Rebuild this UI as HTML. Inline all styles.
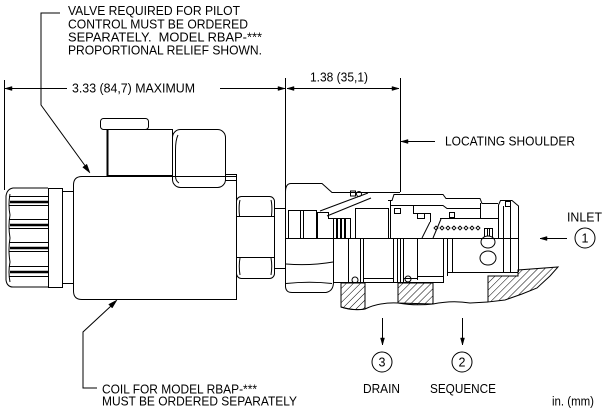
<!DOCTYPE html>
<html><head><meta charset="utf-8"><style>
html,body{margin:0;padding:0;background:#fff;}
svg{display:block;}
text{font-family:"Liberation Sans",Arial,sans-serif;font-size:12.5px;fill:#000;}
</style></head><body>
<svg width="612" height="418" viewBox="0 0 612 418" xmlns="http://www.w3.org/2000/svg">
<defs>
<pattern id="h" width="5" height="5" patternUnits="userSpaceOnUse" patternTransform="rotate(45)">
<line x1="0" y1="0" x2="0" y2="5" stroke="#000" stroke-width="1"/>
</pattern>
</defs>
<rect width="612" height="418" fill="#fff"/>

<!-- TEXT -->
<text x="68" y="15" textLength="172" lengthAdjust="spacingAndGlyphs">VALVE REQUIRED FOR PILOT</text>
<text x="68" y="28.5" textLength="180" lengthAdjust="spacingAndGlyphs">CONTROL MUST BE ORDERED</text>
<text x="68" y="41.5" textLength="194" lengthAdjust="spacingAndGlyphs">SEPARATELY.&#160; MODEL RBAP-***</text>
<text x="68" y="54.5" textLength="194" lengthAdjust="spacingAndGlyphs">PROPORTIONAL RELIEF SHOWN.</text>
<text x="72" y="92.5" textLength="123" lengthAdjust="spacingAndGlyphs">3.33 (84,7) MAXIMUM</text>
<text x="310" y="81.5" textLength="58" lengthAdjust="spacingAndGlyphs">1.38 (35,1)</text>
<text x="445" y="145.5" textLength="130" lengthAdjust="spacingAndGlyphs">LOCATING SHOULDER</text>
<text x="567" y="221.5" textLength="35" lengthAdjust="spacingAndGlyphs">INLET</text>
<text x="585" y="242.5" text-anchor="middle">1</text>
<text x="382" y="366.5" text-anchor="middle">3</text>
<text x="462" y="366.5" text-anchor="middle">2</text>
<text x="363" y="393" textLength="37" lengthAdjust="spacingAndGlyphs">DRAIN</text>
<text x="430" y="393" textLength="66" lengthAdjust="spacingAndGlyphs">SEQUENCE</text>
<text x="552" y="405.5" textLength="42" lengthAdjust="spacingAndGlyphs">in. (mm)</text>
<text x="102" y="393.5" textLength="155" lengthAdjust="spacingAndGlyphs">COIL FOR MODEL RBAP-***</text>
<text x="102" y="405.5" textLength="195" lengthAdjust="spacingAndGlyphs">MUST BE ORDERED SEPARATELY</text>

<!-- hatched housing -->
<g stroke="#000" stroke-width="1">
<path d="M341,283 L365,283 L365,309 Q355,311 341,307 Z" fill="url(#h)"/>
<path d="M398,283 L433,283 L433,304 Q415,306 398,303 Z" fill="url(#h)"/>
<path d="M488,276 L518,276 L518,270 L558,267 L550,276 L537,288 L522,294 L505,300 L488,302 Z" fill="url(#h)"/>
<path d="M341,307 Q352,311 365,309 Q380,302 398,303 L433,304 Q452,300 470,303 L488,302" fill="none"/>
</g>

<g fill="none" stroke="#000" stroke-width="1">
<!-- leaders and dimension lines -->
<polyline points="60,13 41,13 41,105 86,167"/>
<polyline points="111,306 83,332 83,388 97,388"/>
<line x1="4.5" y1="80" x2="4.5" y2="190"/>
<line x1="5" y1="88.5" x2="67" y2="88.5"/>
<line x1="220" y1="88.5" x2="285" y2="88.5"/>
<line x1="285.5" y1="78" x2="285.5" y2="188"/>
<line x1="287" y1="88.5" x2="399" y2="88.5"/>
<line x1="400.5" y1="78" x2="400.5" y2="192"/>
<line x1="401" y1="141.5" x2="435" y2="141.5"/>
<line x1="540" y1="238.5" x2="567" y2="238.5"/>
<line x1="382.5" y1="318" x2="382.5" y2="345"/>
<line x1="462.5" y1="318" x2="462.5" y2="345"/>
<circle cx="585" cy="238" r="10"/>
<circle cx="382" cy="362" r="10"/>
<circle cx="462" cy="362" r="10"/>

<!-- knurled nut -->
<path d="M48,188 L13,188 Q7,189 6,196 L6,280 Q7,287 13,287 L48,287"/>
<path d="M10,194 Q8,205 10,215 Q8,226 10,238 Q8,250 10,262 Q8,272 10,282"/>
<line x1="9" y1="196.5" x2="48" y2="196.5"/>
<line x1="9" y1="219.5" x2="48" y2="219.5"/>
<line x1="9" y1="242.5" x2="48" y2="242.5"/>
<line x1="9" y1="266.5" x2="48" y2="266.5"/>
<line x1="9" y1="205.5" x2="48" y2="205.5"/>
<line x1="9" y1="228.5" x2="48" y2="228.5"/>
<line x1="9" y1="251.5" x2="48" y2="251.5"/>
<line x1="9" y1="276.5" x2="48" y2="276.5"/>
<rect x="48.5" y="188.5" width="14" height="99"/>
<rect x="62.5" y="191.5" width="11" height="92"/>
<!-- coil body -->
<path d="M73.5,185 Q73.5,176.5 82,176.5 L236.5,176.5 L236.5,299.5 L82,299.5 Q73.5,299.5 73.5,291 Z"/>
<!-- connector -->
<rect x="100.5" y="118.5" width="48" height="11" rx="3"/>
<rect x="107.5" y="129.5" width="65" height="47"/>
<line x1="107.5" y1="129" x2="107.5" y2="177" stroke-width="2"/>
<line x1="107" y1="176" x2="172" y2="176" stroke-width="2"/>
<rect x="172.5" y="129.5" width="53" height="58" rx="8"/>
<path d="M178,135 Q175.5,140 175.5,150 L175.5,176 Q175.5,181 179,183"/>
<rect x="225.5" y="174.5" width="11" height="6"/>
<!-- hex nut -->
<rect x="236.5" y="196.5" width="38" height="82" rx="5"/>
<line x1="237" y1="216.5" x2="274" y2="216.5"/>
<line x1="237" y1="257.5" x2="274" y2="257.5"/>
<path d="M240,200 Q238.5,206 239.5,216 M240,258 Q238.5,266 240,275 M271,200 Q272.5,206 271.5,216 M271,258 Q272.5,266 271,275"/>
<rect x="274.5" y="208.5" width="11" height="60"/>

<!-- cartridge: nut -->
<path d="M285.5,192 Q285.5,183.5 291,183.5 L322,183.5 L332,192.5 L400,192.5"/>
<line x1="285.5" y1="188" x2="285.5" y2="287"/>
<path d="M285.5,287 Q286,292.5 292,292.5 L326,292.5 Q333.5,291 333.5,282 L333.5,239"/>
<path d="M286,283.5 Q310,281 332,283.5"/>
<path d="M286,264 Q310,266 333,262"/>
<line x1="288.5" y1="210.5" x2="316" y2="210.5"/>
<line x1="288.5" y1="210" x2="288.5" y2="238"/>
<line x1="300.5" y1="210" x2="300.5" y2="238"/>
<line x1="303.5" y1="210" x2="303.5" y2="238"/>
<line x1="316.5" y1="210" x2="316.5" y2="238"/>
<path d="M317.5,238 L317.5,212.5 L328.5,212.5 L328.5,218.5 L333.5,218.5"/>
<rect x="333.5" y="218.5" width="17" height="20"/>
<rect x="350.5" y="191" width="5" height="5"/>
<circle cx="359" cy="194" r="2.5"/>
<line x1="320" y1="211" x2="368" y2="193"/>
<line x1="327" y1="216" x2="371" y2="198"/>
<rect x="355.5" y="208.5" width="33" height="30"/>
<!-- upper right body -->
<path d="M388,200.5 L392,200.5 L394,194.5 L443,194.5 L446,198.5 L480,198.5 L482,203.5 L498,203.5"/>
<path d="M390.5,205.5 L443,205.5 L447,208.5 L480,208.5"/>
<line x1="390.5" y1="200" x2="390.5" y2="238"/>
<rect x="394.5" y="208.5" width="6" height="5"/>
<rect x="417.5" y="213.5" width="7" height="5"/>
<rect x="449.5" y="212.5" width="5" height="5"/>
<path d="M413.5,205.5 L413.5,213.5 L430.5,213.5 L430.5,222"/>
<line x1="422" y1="238" x2="430" y2="222"/>
<line x1="480.5" y1="203" x2="480.5" y2="218"/>
<line x1="440" y1="218.5" x2="498" y2="218.5"/>
<line x1="433" y1="238" x2="441" y2="219"/>
<g stroke-width="0.9">
<path d="M434,228 l2,-2 l2,2 l-2,2 z M440,228 l2,-2 l2,2 l-2,2 z M446,228 l2,-2 l2,2 l-2,2 z M452,228 l2,-2 l2,2 l-2,2 z M458,228 l2,-2 l2,2 l-2,2 z M464,228 l2,-2 l2,2 l-2,2 z M470,228 l2,-2 l2,2 l-2,2 z M476,228 l2,-2 l2,2 l-2,2 z"/>
</g>
<rect x="484.5" y="228.5" width="8" height="10"/>
<line x1="487.5" y1="229" x2="487.5" y2="238"/>
<line x1="489.5" y1="229" x2="489.5" y2="238"/>
<!-- right end -->
<path d="M498.5,238 L498.5,205 L500.5,200.5 L512,200.5 L518.5,206 L518.5,272"/>
<line x1="503.5" y1="206" x2="503.5" y2="272"/>
<line x1="510.5" y1="206" x2="510.5" y2="272"/>
<rect x="505.5" y="201.5" width="5" height="5"/>
<ellipse cx="488" cy="242" rx="7" ry="6" fill="#fff"/>
<ellipse cx="488" cy="258" rx="8" ry="7" fill="#fff"/>
<!-- lower section -->
<line x1="285" y1="238.5" x2="518" y2="238.5"/>
<line x1="348.5" y1="238" x2="348.5" y2="282"/>
<line x1="360.5" y1="238" x2="360.5" y2="282"/>
<line x1="363.5" y1="238" x2="363.5" y2="282"/>
<line x1="393.5" y1="238" x2="393.5" y2="282"/>
<line x1="397.5" y1="238" x2="397.5" y2="282"/>
<line x1="400.5" y1="238" x2="400.5" y2="282"/>
<line x1="403.5" y1="238" x2="403.5" y2="282"/>
<line x1="417.5" y1="238" x2="417.5" y2="280"/>
<line x1="341.5" y1="282" x2="341.5" y2="283"/>
<line x1="333" y1="282.5" x2="400" y2="282.5"/>
<line x1="363" y1="278.5" x2="393" y2="278.5"/>
<line x1="403" y1="278.5" x2="417" y2="278.5"/>
<line x1="400" y1="282.5" x2="443" y2="282.5"/>
<line x1="417" y1="276.5" x2="443" y2="276.5"/>
<circle cx="355" cy="280" r="3"/>
<circle cx="408" cy="279" r="3"/>
<line x1="443.5" y1="238" x2="443.5" y2="283"/>
<line x1="447.5" y1="238" x2="447.5" y2="276"/>
<line x1="452.5" y1="238" x2="452.5" y2="272"/>
<line x1="447" y1="272.5" x2="518" y2="272.5"/>
</g>

<!-- arrowheads -->
<g fill="#000" stroke="#000" stroke-width="0.5">
<polygon points="90,173 82.7,167.2 86.8,164.2"/>
<polygon points="117,300 112.2,308 108.7,304.4"/>
<polygon points="5,88.5 12,86.5 12,90.5"/>
<polygon points="285,88.5 278,86.5 278,90.5"/>
<polygon points="287,88.5 294,86.5 294,90.5"/>
<polygon points="399,88.5 392,86.5 392,90.5"/>
<polygon points="401,141.5 408,139.5 408,143.5"/>
<polygon points="540,238.5 547,236.5 547,240.5"/>
<polygon points="382.5,345 380.5,338 384.5,338"/>
<polygon points="462.5,345 460.5,338 464.5,338"/>
</g>
<!-- knurl grooves -->
<g stroke="#000" stroke-width="2.5">
<line x1="10" y1="202" x2="48" y2="202"/>
<line x1="10" y1="225" x2="48" y2="225"/>
<line x1="10" y1="248" x2="48" y2="248"/>
<line x1="10" y1="272" x2="48" y2="272"/>
</g>
<g fill="#000">
<rect x="336" y="219" width="2" height="19"/>
<rect x="340" y="219" width="2" height="19"/>
<rect x="344" y="219" width="2" height="19"/>
</g>
</svg>
</body></html>
